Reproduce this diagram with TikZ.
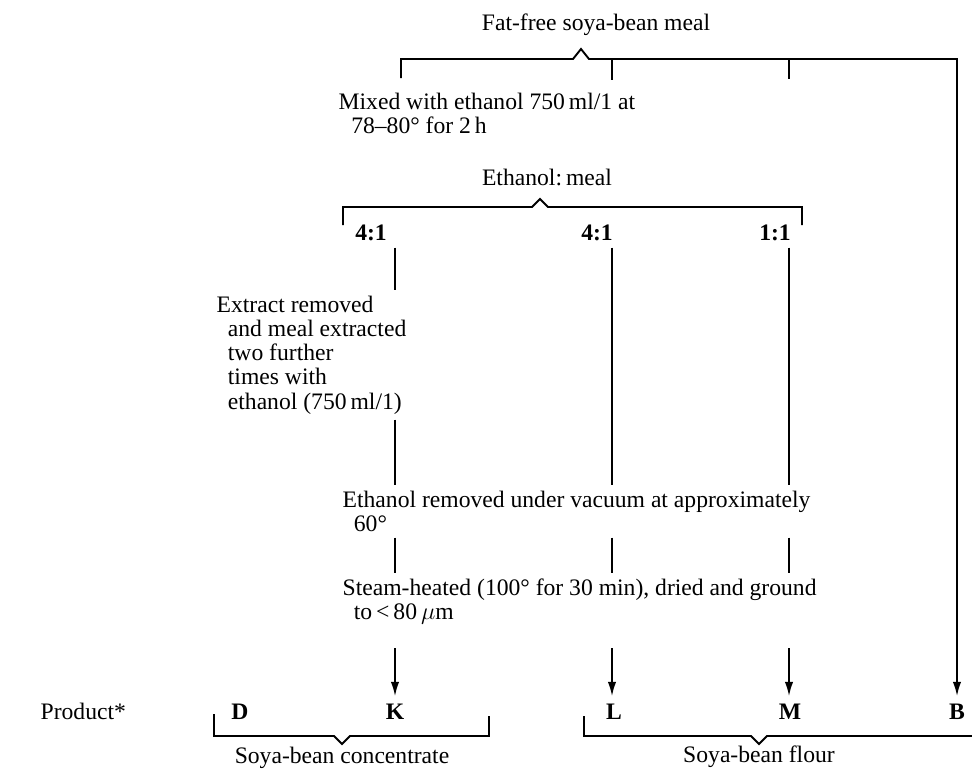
\documentclass[tikz,border=0pt]{standalone}
\usepackage{fontspec}
\setmainfont{Liberation Serif}
\usepackage{tikz}
\usetikzlibrary{arrows.meta,positioning,calc}

\begin{document}
\begin{tikzpicture}[x=0.025cm,y=-0.025cm,>={Latex[length=3.6mm,width=2.1mm]},
    line width=1.35pt,
    every node/.style={font=\fontsize{16.8}{17.2}\selectfont},
    txt/.style={align=left,anchor=west},
    ratio/.style={font=\fontsize{16.8}{17.2}\selectfont\bfseries,inner sep=4pt},
    prod/.style={font=\fontsize{16.8}{17.2}\selectfont\bfseries,inner sep=5pt}]
  \useasboundingbox (0,0) rectangle (972,772);

  % columns of the flow
  \coordinate (colK) at (395,0);
  \coordinate (colL) at (612,0);
  \coordinate (colM) at (789,0);
  \coordinate (colB) at (957,0);
  \coordinate (arr) at (0,648);

  \node (meal) at (596,25) {Fat-free soya-bean meal};
  \node[txt] (mix) at (333,113.5)
        {Mixed with ethanol 750\,ml/1 at\\\hspace*{9pt}78--80° for 2\,h};
  \node (ratio) at (547,177) {Ethanol:\,meal};
  \node[ratio] (ra) at (371,233) {4:1};
  \node[ratio] (rb) at (597,233) {4:1};
  \node[ratio] (rc) at (775,233) {1:1};
  \node[txt] (extract) at (211,355)
        {Extract removed\\\hspace*{8pt}and meal extracted\\\hspace*{8pt}two further\\
         \hspace*{8pt}times with\\\hspace*{8pt}ethanol (750\,ml/1)};
  \node[txt] (ethrem) at (337,511.5)
        {Ethanol removed under vacuum at approximately\\\hspace*{8pt}60°};
  \node[txt] (steam) at (337,601.5)
        {Steam-heated (100° for 30 min), dried and ground\\\hspace*{8pt}to\,<\,80\,$\mu$m};

  \node[anchor=west] (product) at (35,711) {Product*};
  \node[prod] (D) at (240,712) {D};
  \node[prod] (K) at (395,712) {K};
  \node[prod] (L) at (614,712) {L};
  \node[prod] (M) at (790,712) {M};
  \node[prod] (B) at (957,712) {B};
  \node (conc) at (342,758) {Soya-bean concentrate};
  \node (flour) at (759,757) {Soya-bean flour};

  % braces
  \draw[->] (401,78) |- (573,59) -- (581,49) -- (589,59) -| (B);
  \draw (colL |- 0,59) -- (colL |- 0,80);
  \draw (colM |- 0,59) -- (colM |- 0,79);
  \draw (343,225) |- (532,207) -- (540,199) -- (548,207) -| (802,225);
  \draw (214,714) |- (334,736) -- (342,744) -- (350,736) -| (489,716);
  \draw (584,716) |- (751,736) -- (759,744) -- (767,736) -- (975,736);

  % vertical runs
  \draw (colK |- ra.south) -- (colK |- extract.north);
  \draw (colK |- extract.south) -- (colK |- ethrem.north);
  \foreach \c/\r in {colL/rb,colM/rc}
    \draw (\c |- \r.south) -- (\c |- ethrem.north);
  \foreach \c/\p in {colK/K,colL/L,colM/M} {
    \draw (\c |- ethrem.south) -- (\c |- steam.north);
    \draw[->] (\c |- arr) -- (\c |- \p.north);
  }
\end{tikzpicture}
\end{document}
